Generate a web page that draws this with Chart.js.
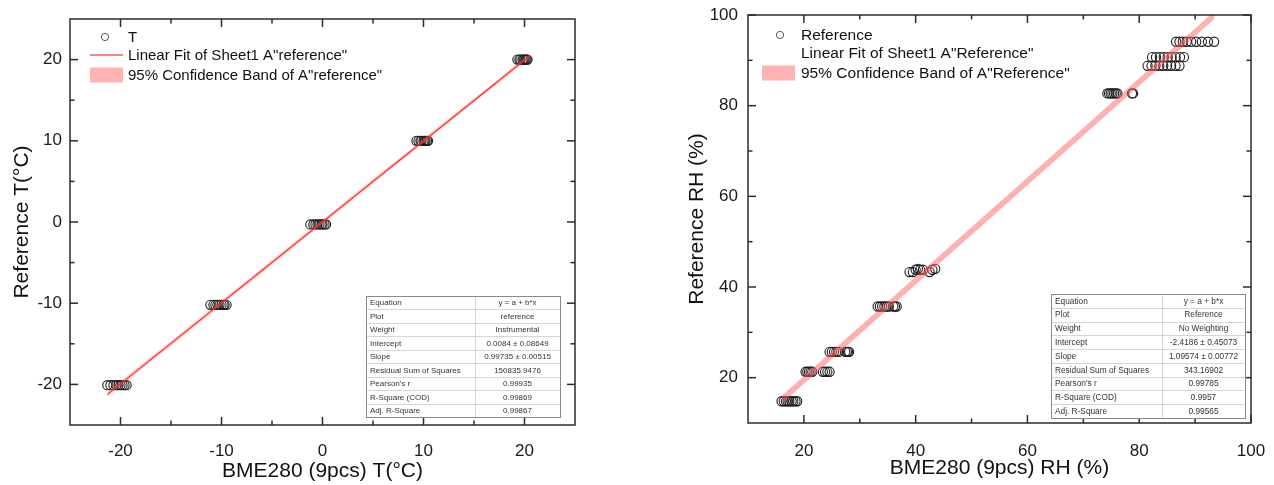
<!DOCTYPE html>
<html><head><meta charset="utf-8">
<script src="https://cdn.jsdelivr.net/npm/chart.js@4.4.1/dist/chart.umd.min.js"></script>
<style>
html,body{margin:0;padding:0;background:#fff;width:1274px;height:485px;overflow:hidden}
canvas{position:absolute;top:0}
#cl{left:0}
#cr{left:670px}
</style></head><body>
<canvas id="cl" width="600" height="485"></canvas>
<canvas id="cr" width="604" height="485"></canvas>
<script>
// ---------- data: left (temperature) ----------
const tX = [
  -21.3,-21.0,-20.7,-20.4,-20.2,-20.0,-19.8,-19.6,-19.4,
  -11.1,-10.8,-10.6,-10.4,-10.2,-10.0,-9.8,-9.7,-9.5,
  -1.2,-0.9,-0.7,-0.5,-0.3,-0.1,0.0,0.2,0.35,
  9.3,9.5,9.7,9.8,10.0,10.1,10.2,10.35,10.45,
  19.3,19.5,19.6,19.8,19.9,20.0,20.1,20.2,20.3
];
const tY = [
  -20.1,-20.1,-20.1,-20.1,-20.1,-20.1,-20.1,-20.1,-20.1,
  -10.2,-10.2,-10.2,-10.2,-10.2,-10.2,-10.2,-10.2,-10.2,
  -0.3,-0.3,-0.3,-0.3,-0.3,-0.3,-0.3,-0.3,-0.3,
  10.0,10.0,10.0,10.0,10.0,10.0,10.0,10.0,10.0,
  20.0,20.0,20.0,20.0,20.0,20.0,20.0,20.0,20.0
];
const tFitX = [-21.3, 20.5];
const tFitY = [-21.23, 20.45];
const tBandLo = [-21.5, 20.2];
const tBandHi = [-20.95, 20.7];
const tXTicks = [-20,-10,0,10,20];
const tYTicks = [-20,-10,0,10,20];
const tMinor = [-15,-5,5,15];

// ---------- data: right (humidity) ----------
const hX = [
  16.0,16.4,16.8,17.1,17.4,17.8,18.1,18.5,18.8,
  20.3,20.6,20.9,21.2,21.5,23.4,23.8,24.2,24.6,
  24.6,25.0,25.4,25.8,26.2,27.4,27.7,27.9,28.1,
  33.2,33.6,34.0,34.4,34.8,35.2,36.0,36.3,36.6,
  38.9,39.5,40.0,40.4,40.8,41.3,42.5,43.0,43.5,
  74.3,74.6,74.9,75.2,75.5,75.8,76.1,78.7,78.9,
  81.5,82.2,82.9,83.6,84.3,85.0,85.7,86.5,87.2,
  82.3,83.0,83.7,84.4,85.1,85.8,86.5,87.3,88.0,
  86.6,87.2,87.8,88.5,89.3,90.2,91.2,92.3,93.4
];
const hY = [
  14.8,14.8,14.8,14.8,14.8,14.8,14.8,14.8,14.8,
  21.3,21.3,21.3,21.3,21.3,21.3,21.3,21.3,21.3,
  25.7,25.7,25.7,25.7,25.7,25.7,25.7,25.7,25.7,
  35.7,35.7,35.7,35.7,35.7,35.7,35.7,35.7,35.7,
  43.3,43.3,43.8,44.0,43.8,43.8,43.3,43.8,44.0,
  82.7,82.7,82.7,82.7,82.7,82.7,82.7,82.7,82.7,
  88.8,88.8,88.8,88.8,88.8,88.8,88.8,88.8,88.8,
  90.7,90.7,90.7,90.7,90.7,90.7,90.7,90.7,90.7,
  94.1,94.1,94.1,94.1,94.1,94.1,94.1,94.1,94.1
];
const hFitX = [16.0, 93.4];
const hBandLo = [14.25, 99.05];
const hBandHi = [15.95, 100.75];
const hXTicks = [20,40,60,80,100];
const hYTicks = [20,40,60,80,100];
const hMinor = [30,50,70,90];

// ---------- table texts ----------
const tableLabels = ['Equation','Plot','Weight','Intercept','Slope','Residual Sum of Squares',"Pearson's r",'R-Square (COD)','Adj. R-Square'];
const tTable = ['y = a + b*x','reference','Instrumental','0.0084 \u00b1 0.08649','0.99735 \u00b1 0.00515','150835.9476','0.99935','0.99869','0.99867'];
const hTable = ['y = a + b*x','Reference','No Weighting','-2.4186 \u00b1 0.45073','1.09574 \u00b1 0.00772','343.16902','0.99785','0.9957','0.99565'];

// ---------- legend texts ----------
const tLegend = ['T','Linear Fit of Sheet1 A"reference"','95% Confidence Band of A"reference"'];
const hLegend = ['Reference','Linear Fit of Sheet1 A"Reference"','95% Confidence Band of A"Reference"'];

const FONT = "'Liberation Sans', Arial, sans-serif";
Chart.defaults.font.family = FONT;

const pts = (xs, ys) => xs.map((v,i)=>({x:v,y:ys[i]}));

const framePlugin = {
  id: 'frame',
  afterDatasetsDraw(chart, args, opts) {
    const {ctx, chartArea: a, scales: {x, y}} = chart;
    ctx.save();
    ctx.strokeStyle = '#2b2b2b'; ctx.lineWidth = 1.5;
    const seg = (x1,y1,x2,y2)=>{ctx.beginPath();ctx.moveTo(x1,y1);ctx.lineTo(x2,y2);ctx.stroke();};
    const tx = (v,len)=>{const p=x.getPixelForValue(v); seg(p,a.bottom,p,a.bottom-len); seg(p,a.top,p,a.top+len);};
    const ty = (v,len)=>{const p=y.getPixelForValue(v); seg(a.left,p,a.left+len,p); seg(a.right,p,a.right-len,p);};
    x.ticks.forEach(t=>tx(t.value,8)); (opts.minor||[]).forEach(v=>tx(v,4.5));
    y.ticks.forEach(t=>ty(t.value,8)); (opts.minor||[]).forEach(v=>ty(v,4.5));
    ctx.strokeRect(a.left,a.top,a.right-a.left,a.bottom-a.top);
    ctx.restore();
  }
};

const legendTablePlugin = {
  id: 'legtab',
  afterDraw(chart, args, o) {
    const ctx = chart.ctx;
    ctx.save();
    const L = o.legend;
    ctx.font = L.font + 'px ' + FONT;
    ctx.fillStyle = '#111';
    ctx.textBaseline = 'middle'; ctx.textAlign = 'left';
    ctx.strokeStyle = '#555'; ctx.lineWidth = 1;
    ctx.beginPath(); ctx.arc(L.cx, L.y[0], 3.6, 0, Math.PI*2); ctx.stroke();
    if (L.line) { ctx.strokeStyle = '#ff5a5a'; ctx.lineWidth = 1.3; ctx.beginPath(); ctx.moveTo(L.sx, L.y[1]); ctx.lineTo(L.sx+L.sw, L.y[1]); ctx.stroke(); }
    ctx.fillStyle = '#ffb3b3'; ctx.fillRect(L.sx, L.y[2]-7.5, L.sw, 15);
    ctx.fillStyle = '#111';
    L.texts.forEach((t,i)=>ctx.fillText(t, L.tx, L.y[i]+1));
    const T = o.table;
    const rh = (T.b - T.t) / T.labels.length;
    ctx.fillStyle = '#fff'; ctx.fillRect(T.l, T.t, T.r-T.l, T.b-T.t);
    ctx.strokeStyle = '#d6d6d6'; ctx.lineWidth = 1;
    for (let i=1;i<T.labels.length;i++){ const yy=Math.round(T.t+i*rh)+0.5; ctx.beginPath(); ctx.moveTo(T.l,yy); ctx.lineTo(T.r,yy); ctx.stroke(); }
    ctx.beginPath(); ctx.moveTo(T.d+0.5,T.t); ctx.lineTo(T.d+0.5,T.b); ctx.stroke();
    ctx.strokeStyle = '#8a8a8a';
    ctx.strokeRect(T.l+0.5, T.t+0.5, T.r-T.l, T.b-T.t);
    ctx.font = T.font + 'px ' + FONT;
    ctx.fillStyle = '#333';
    T.labels.forEach((s,i)=>{ const yy=T.t+(i+0.5)*rh+0.5; ctx.textAlign='left'; ctx.fillText(s, T.l+4, yy); ctx.textAlign='center'; ctx.fillText(T.values[i], (T.d+T.r)/2, yy); });
    ctx.restore();
  }
};

function axis(min, max, ticks, title, titlePad, tickPad, fit, horiz) {
  return {
    type: 'linear', min, max,
    afterBuildTicks: s => { s.ticks = ticks.map(v=>({value:v})); },
    afterFit: s => {
      if (horiz) s.height = fit; else s.width = fit;
      s.paddingLeft = 0; s.paddingRight = 0; s.paddingTop = 0; s.paddingBottom = 0;
    },
    grid: {display:false, drawTicks:false},
    border: {display:false},
    ticks: {font:{size:17}, color:'#1a1a1a', padding: tickPad, maxRotation:0, autoSkip:false},
    title: {display:true, text:title, font:{size:21}, color:'#111', padding: titlePad}
  };
}

new Chart(document.getElementById('cl'), {
  type: 'scatter',
  data: { datasets: [
    {label:'lo', data: pts(tFitX, tBandLo), showLine:true, borderWidth:0, pointRadius:0, fill:false, order:2},
    {label:'band', data: pts(tFitX, tBandHi), showLine:true, borderWidth:0, pointRadius:0, fill:'-1', backgroundColor:'rgba(255,90,90,0.35)', order:1},
    {label:'fit', data: pts(tFitX, tFitY), showLine:true, borderColor:'rgba(255,40,40,0.95)', borderWidth:1.2, pointRadius:0, fill:false, order:0},
    {label:'T', data: pts(tX, tY), pointRadius:4.6, pointBorderWidth:1.1, pointBorderColor:'#1e1e1e', pointBackgroundColor:'rgba(0,0,0,0)', order:3}
  ]},
  options: {
    responsive:false, animation:false, events:[],
    layout:{padding:{left:0,right:25,top:19,bottom:0}},
    scales:{
      x: axis(-25, 25, tXTicks, 'BME280 (9pcs) T(\u00b0C)', {top:0,bottom:1}, 16, 60, true),
      y: axis(-25, 25, tYTicks, 'Reference T(\u00b0C)', {top:10,bottom:0}, 8, 70, false)
    },
    plugins:{
      legend:{display:false}, tooltip:{enabled:false},
      frame:{minor:tMinor},
      legtab:{
        legend:{font:15, cx:105, sx:90, sw:33, tx:128, y:[37,55,75], line:true, texts:tLegend},
        table:{l:366, r:560, t:296, b:417, d:475, font:8, labels:tableLabels, values:tTable}
      }
    }
  },
  plugins:[framePlugin, legendTablePlugin]
});

new Chart(document.getElementById('cr'), {
  type: 'scatter',
  data: { datasets: [
    {label:'lo', data: pts(hFitX, hBandLo), showLine:true, borderWidth:0, pointRadius:0, fill:false, order:2},
    {label:'band', data: pts(hFitX, hBandHi), showLine:true, borderWidth:0, pointRadius:0, fill:'-1', backgroundColor:'rgba(255,100,100,0.5)', order:1},
    {label:'Reference', data: pts(hX, hY), pointRadius:4.6, pointBorderWidth:1.1, pointBorderColor:'#1e1e1e', pointBackgroundColor:'rgba(0,0,0,0)', order:3}
  ]},
  options: {
    responsive:false, animation:false, events:[],
    layout:{padding:{left:0,right:23,top:15,bottom:0}},
    scales:{
      x: axis(10, 100, hXTicks, 'BME280 (9pcs) RH (%)', {top:0,bottom:4}, 18, 62, true),
      y: axis(10, 100, hYTicks, 'Reference RH (%)', {top:14.4,bottom:0}, 10, 78, false)
    },
    plugins:{
      legend:{display:false}, tooltip:{enabled:false},
      frame:{minor:hMinor},
      legtab:{
        legend:{font:15.5, cx:110, sx:92, sw:33, tx:131, y:[35,53,73], line:false, texts:hLegend},
        table:{l:381, r:575, t:294, b:418, d:492, font:8.3, labels:tableLabels, values:hTable}
      }
    }
  },
  plugins:[framePlugin, legendTablePlugin]
});
</script>
</body></html>
